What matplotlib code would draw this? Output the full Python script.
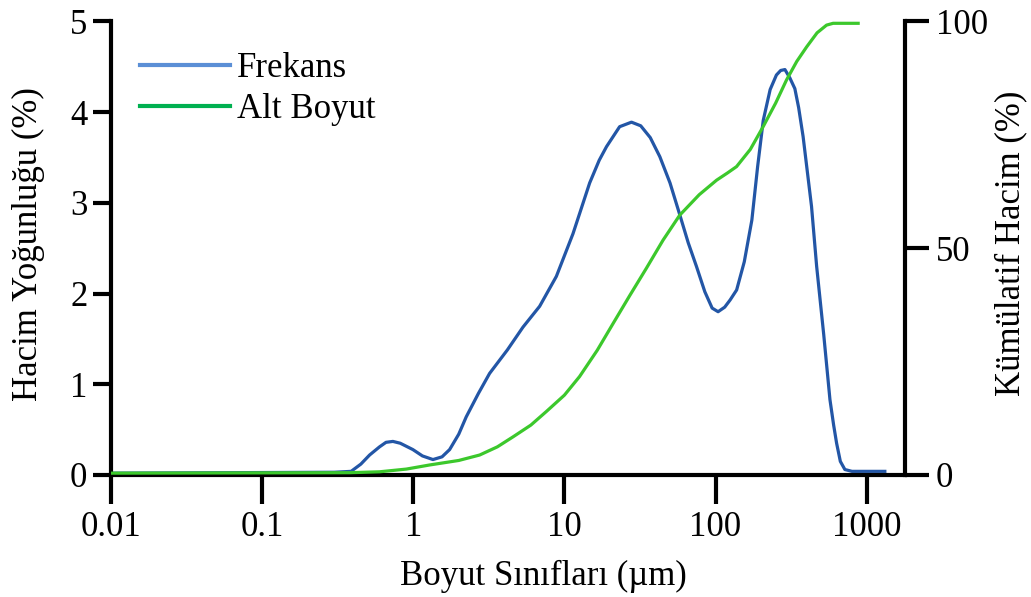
import numpy as np
import matplotlib.pyplot as plt
from matplotlib.lines import Line2D
from matplotlib.ticker import FixedLocator, NullLocator

plt.rcParams['font.family'] = ['Liberation Serif', 'DejaVu Serif']
plt.rcParams['font.size'] = 25

# Frekans (hacim yogunlugu, %)
boyut_f = [0.01, 0.30, 0.388, 0.45, 0.514, 0.598, 0.66, 0.733, 0.82, 0.994, 1.15, 1.35,
           1.55, 1.74, 2.0, 2.24, 2.7, 3.20, 4.2, 5.32, 6.86, 8.85, 11.4, 14.7, 17,
           19.0, 23.2, 27.8, 32, 37, 42.8, 50, 58.0, 66, 74.8, 85, 95, 104, 115, 125,
           138, 155, 174, 190, 207, 230, 253, 270, 288, 310, 335, 355, 380, 432, 467,
           520, 572, 605, 633, 670, 718, 800, 1320]
frekans = [0.02, 0.03, 0.04, 0.12, 0.22, 0.31, 0.36, 0.37, 0.35, 0.28, 0.21, 0.17,
           0.20, 0.28, 0.45, 0.64, 0.90, 1.12, 1.38, 1.63, 1.86, 2.19, 2.66, 3.22, 3.47,
           3.62, 3.84, 3.89, 3.85, 3.72, 3.51, 3.22, 2.87, 2.56, 2.30, 2.02, 1.84, 1.80,
           1.85, 1.93, 2.04, 2.35, 2.81, 3.40, 3.91, 4.25, 4.41, 4.46, 4.47, 4.38, 4.26,
           4.05, 3.73, 2.96, 2.30, 1.55, 0.83, 0.55, 0.35, 0.15, 0.06, 0.04, 0.04]

# Alt boyut (kumulatif hacim, %)
boyut_k = [0.01, 0.378, 0.598, 0.9, 1.28, 2.0, 2.75, 3.6, 4.57, 6.0, 7.60, 10, 12.6,
           16.5, 21.0, 27, 34.9, 45, 58.0, 78, 101.6, 120, 137.8, 170, 206.6, 250,
           295, 345, 401, 470, 543, 600, 879]
kumulatif = [0.4, 0.5, 0.7, 1.3, 2.2, 3.2, 4.4, 6.2, 8.4, 11.0, 14.0, 17.6, 21.7,
             27.5, 33.4, 39.5, 45.6, 51.8, 57.3, 61.8, 65.0, 66.6, 68.0, 71.8, 76.8,
             82.0, 87.1, 91.2, 94.4, 97.5, 99.2, 99.6, 99.6]

x_ticks = [0.01, 0.1, 1, 10, 100, 1000]
x_labels = ['0.01', '0.1', '1', '10', '100', '1000']

fig = plt.figure(figsize=(10.31, 5.97), dpi=100)
ax = fig.add_axes([0.1077, 0.2044, 0.7701, 0.7596])
ax2 = ax.twinx()

ax.plot(boyut_f, frekans, color='#2356a6', lw=2.3, solid_joinstyle='round')
ax2.plot(boyut_k, kumulatif, color='#3cc82c', lw=2.3, solid_joinstyle='round')

ax.set_xscale('log')
ax.set_xlim(0.01, 1795)
ax.set_ylim(0, 5)
ax2.set_ylim(0, 100)

ax.xaxis.set_major_locator(FixedLocator(x_ticks))
ax.xaxis.set_minor_locator(NullLocator())
ax.set_xticklabels(x_labels)
ax.set_yticks([0, 1, 2, 3, 4, 5])
ax2.set_yticks([0, 50, 100])

for a in (ax, ax2):
    for s in a.spines.values():
        s.set_linewidth(3)
    a.spines['top'].set_visible(False)
ax2.spines['left'].set_visible(False)
ax2.spines['bottom'].set_visible(False)
ax.spines['right'].set_visible(False)

ax.tick_params(axis='x', length=21, width=3, pad=5)
ax.tick_params(axis='y', length=13, width=3, pad=4)
ax2.tick_params(axis='y', length=17, width=3, pad=5)

ax.set_xlabel('Boyut Sınıfları (µm)')
ax.xaxis.set_label_coords(0.545, -0.187)
ax.set_ylabel('Hacim Yoğunluğu (%)')
ax.yaxis.set_label_coords(-0.083, 0.51)
ax2.set_ylabel('Kümülatif Hacim (%)', rotation=90)
ax2.yaxis.set_label_coords(1.112, 0.51)

handles = [Line2D([], [], color='#5b8fd6', lw=3),
           Line2D([], [], color='#00b050', lw=3)]
ax.legend(handles, ['Frekans', 'Alt Boyut'], loc='upper left', frameon=False,
          bbox_to_anchor=(0.01, 0.978), handlelength=2.6, handletextpad=0.2,
          labelspacing=0.22, borderaxespad=0.2)

fig.savefig('out.png', dpi=100)
